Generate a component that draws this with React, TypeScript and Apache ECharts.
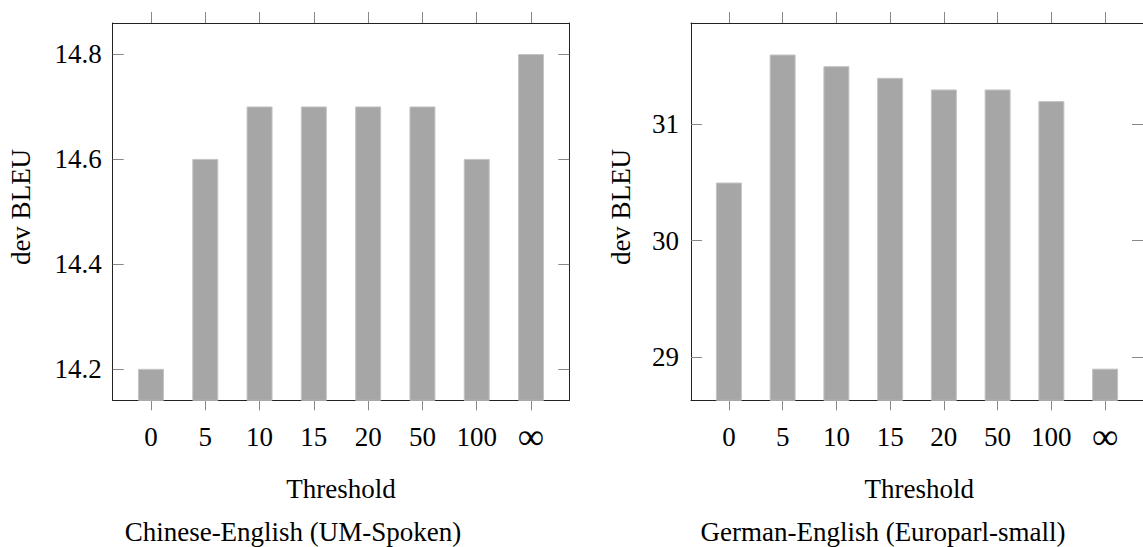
import React, { useEffect, useRef } from "react";
import * as echarts from "echarts";

const categories = ["0", "5", "10", "15", "20", "50", "100", "∞"];
const zhEnValues = [14.2, 14.6, 14.7, 14.7, 14.7, 14.7, 14.6, 14.8];
const deEnValues = [30.5, 31.6, 31.5, 31.4, 31.3, 31.3, 31.2, 28.9];
const zhEnTicks = [14.2, 14.4, 14.6, 14.8];
const deEnTicks = [29, 30, 31];
const xLabel = "Threshold";
const yLabel = "dev BLEU";
const captions = ["Chinese-English (UM-Spoken)", "German-English (Europarl-small)"];

const FONT = "'Liberation Serif', 'Times New Roman', serif";
const FS = 27;
const AXIS_COLOR = "#222";
const TICK_COLOR = "#888";

export default function App() {
  const ref = useRef<HTMLDivElement>(null);
  useEffect(() => {
    if (!ref.current) return;
    const chart = echarts.init(ref.current, undefined, { renderer: "svg" });
    const idx = categories.map((_, i) => i);
    const xMin = -0.705;
    const xMax = categories.length - 1 + 0.705;

    const makeX = (gridIndex: number, top: boolean) => ({
      type: "value",
      gridIndex,
      position: top ? "top" : "bottom",
      min: xMin,
      max: xMax,
      splitLine: { show: false },
      axisLine: { show: true, onZero: false, lineStyle: { color: AXIS_COLOR, width: 1 } },
      axisTick: {
        show: true,
        inside: false,
        length: top ? 11 : 10,
        customValues: idx,
        lineStyle: { color: TICK_COLOR, width: 1 },
      },
      axisLabel: {
        show: !top,
        customValues: idx,
        margin: 22,
        fontFamily: FONT,
        fontSize: FS,
        lineHeight: 30,
        color: "#000",
        formatter: (v: number) => {
          const c = categories[Math.round(v)] ?? "";
          return c === "∞" ? "{inf|∞}" : c;
        },
        rich: {
          inf: { fontFamily: FONT, fontSize: 37, lineHeight: 30, color: "#000", padding: [0, 0, 2, 0] },
        },
      },
    });

    const makeY = (
      gridIndex: number,
      right: boolean,
      min: number,
      max: number,
      ticks: number[],
      decimals: number,
      margin: number
    ) => ({
      type: "value",
      gridIndex,
      position: right ? "right" : "left",
      min,
      max,
      splitLine: { show: false },
      axisLine: { show: true, onZero: false, lineStyle: { color: AXIS_COLOR, width: 1 } },
      axisTick: {
        show: true,
        inside: true,
        length: 11,
        customValues: ticks,
        lineStyle: { color: TICK_COLOR, width: 1 },
      },
      axisLabel: {
        show: !right,
        customValues: ticks,
        margin,
        fontFamily: FONT,
        fontSize: FS,
        color: "#000",
        formatter: (v: number) => v.toFixed(decimals),
      },
    });

    const barStyle = {
      color: "#a6a6a6",
      borderColor: "#c4c4c4",
      borderWidth: 1,
    };

    chart.setOption({
      animation: false,
      backgroundColor: "#fff",
      grid: [
        { left: 112.7, top: 23, width: 456.6, height: 377.3 },
        { left: 691, top: 23, width: 456.6, height: 377.3 },
      ],
      xAxis: [makeX(0, false), makeX(0, true), makeX(1, false), makeX(1, true)],
      yAxis: [
        makeY(0, false, 14.14, 14.859, zhEnTicks, 1, 11),
        makeY(0, true, 14.14, 14.859, zhEnTicks, 1, 11),
        makeY(1, false, 28.628, 31.871, deEnTicks, 0, 12),
        makeY(1, true, 28.628, 31.871, deEnTicks, 0, 12),
      ],
      series: [
        {
          type: "bar",
          xAxisIndex: 0,
          yAxisIndex: 0,
          barWidth: 26,
          clip: true,
          itemStyle: barStyle,
          data: zhEnValues.map((v, i) => [i, v]),
        },
        {
          type: "bar",
          xAxisIndex: 2,
          yAxisIndex: 2,
          barWidth: 26,
          clip: true,
          itemStyle: barStyle,
          data: deEnValues.map((v, i) => [i, v]),
        },
      ],
      graphic: [
        {
          type: "text",
          x: 21,
          y: 207,
          rotation: Math.PI / 2,
          style: { text: yLabel, font: `${FS}px ${FONT}`, fill: "#000", align: "center", verticalAlign: "middle" },
        },
        {
          type: "text",
          x: 621,
          y: 207,
          rotation: Math.PI / 2,
          style: { text: yLabel, font: `${FS}px ${FONT}`, fill: "#000", align: "center", verticalAlign: "middle" },
        },
        {
          type: "text",
          x: 341,
          y: 489,
          style: { text: xLabel, font: `${FS}px ${FONT}`, fill: "#000", align: "center", verticalAlign: "middle" },
        },
        {
          type: "text",
          x: 919.3,
          y: 489,
          style: { text: xLabel, font: `${FS}px ${FONT}`, fill: "#000", align: "center", verticalAlign: "middle" },
        },
        {
          type: "text",
          x: 293,
          y: 532,
          style: { text: captions[0], font: `${FS}px ${FONT}`, fill: "#000", align: "center", verticalAlign: "middle" },
        },
        {
          type: "text",
          x: 883,
          y: 532,
          style: { text: captions[1], font: `${FS}px ${FONT}`, fill: "#000", align: "center", verticalAlign: "middle" },
        },
      ],
    });
    return () => chart.dispose();
  }, []);

  return (
    <div
      ref={ref}
      style={{ position: "fixed", left: 0, top: 0, width: 1143, height: 547, background: "#fff" }}
    />
  );
}
